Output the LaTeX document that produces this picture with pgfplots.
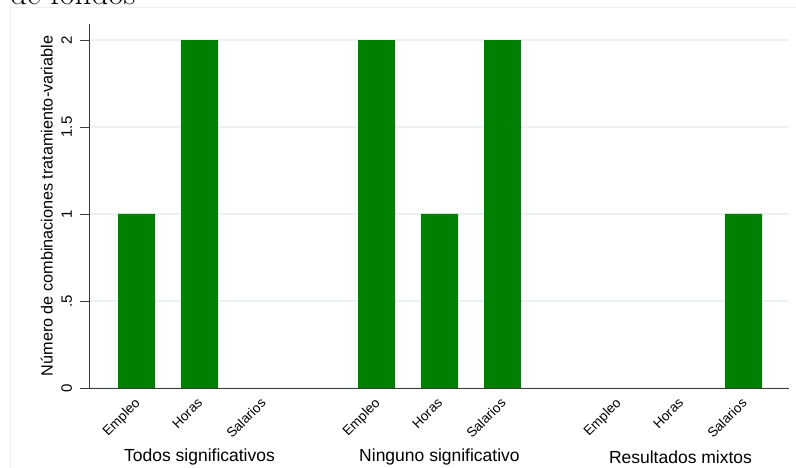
\documentclass[border=0pt]{standalone}
\usepackage{pgfplots}
\pgfplotsset{compat=1.18}
\usepackage{fontspec}
\setmainfont{Liberation Sans}
\newfontfamily\titlefont{Latin Modern Roman}
\definecolor{gridc}{RGB}{234,242,243}
\definecolor{barg}{RGB}{0,128,0}
\definecolor{axc}{RGB}{60,60,60}
\newcommand{\yt}[1]{\fontsize{15}{18}\selectfont #1}
\begin{document}
\begin{tikzpicture}[x=1pt,y=1pt]
\draw[gridc, line width=0.8pt] (10.5,0) -- (10.5,461) -- (796,461);
\node[anchor=base west, inner sep=0pt, font=\titlefont\fontsize{33}{38}\selectfont] at (10,463) {de fondos};
\begin{axis}[
  at={(89pt,80pt)}, anchor=south west,
  scale only axis, width=700pt, height=364pt,
  xmin=89, xmax=789, ymin=0, ymax=2.092,
  axis x line=bottom, axis y line=left,
  axis line style={-, axc, line width=0.8pt},
  clip=false,
  /pgf/number format/assume math mode=true,
  ytick={0,0.5,1,1.5,2},
  yticklabels={\yt{0},\yt{.5},\yt{1},\yt{1.5},\yt{2}},
  yticklabel style={rotate=90, anchor=south, inner sep=0pt, outer sep=0pt, yshift=8pt},
  ytick style={axc, line width=0.8pt},
  tick align=outside, major tick length=9pt,
  ymajorgrids, grid style={gridc, line width=1.2pt},
  xtick={136.5,199.5,262.5,376.5,439.5,502.5,617.5,680.5,743.5},
  xticklabels={Empleo,Horas,Salarios,Empleo,Horas,Salarios,Empleo,Horas,Salarios},
  x tick style={draw=none},
  xticklabel style={rotate=45, anchor=north east, font=\fontsize{13.5}{15}\selectfont, inner sep=2pt, yshift=4pt},
  ylabel={Número de combinaciones tratamiento-variable},
  every axis y label/.style={at={(axis description cs:0,0.5)}, rotate=90, anchor=south, inner sep=0pt, yshift=36pt, font=\fontsize{16.2}{19}\selectfont},
]
\addplot[ybar, bar width=37, fill=barg, draw=none] coordinates {
  (136.5,1) (199.5,2)
  (376.5,2) (439.5,1) (502.5,2)
  (743.5,1)
};
\node[font=\fontsize{17.5}{20}\selectfont] at (axis cs:199.5,0) [yshift=-69pt] {Todos significativos};
\node[font=\fontsize{17.5}{20}\selectfont] at (axis cs:439.5,0) [yshift=-69pt] {Ninguno significativo};
\node[font=\fontsize{17.5}{20}\selectfont] at (axis cs:680.5,0) [yshift=-69pt] {Resultados mixtos};
\end{axis}
\pgfresetboundingbox
\path[use as bounding box] (0,0) rectangle (796,468);
\end{tikzpicture}
\end{document}
